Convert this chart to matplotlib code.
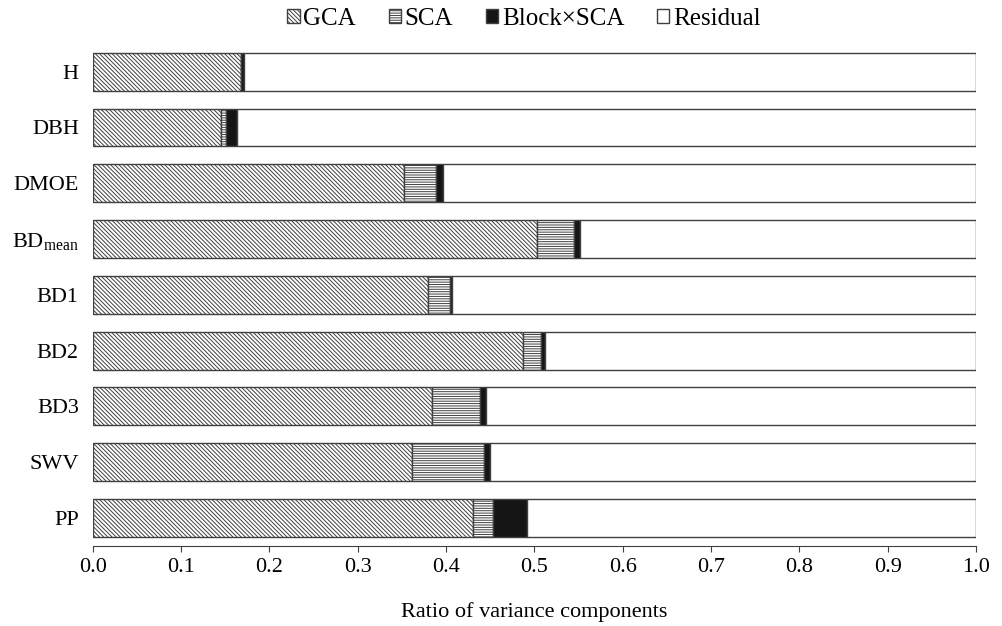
import matplotlib.pyplot as plt
import numpy as np

plt.rcParams['font.family'] = ['Liberation Serif', 'DejaVu Serif']
plt.rcParams['mathtext.fontset'] = 'custom'
plt.rcParams['mathtext.rm'] = 'Liberation Serif'
plt.rcParams['mathtext.it'] = 'Liberation Serif:italic'
plt.rcParams['hatch.linewidth'] = 0.7

traits = ['H', 'DBH', 'DMOE', r'BD$_{\mathrm{mean}}$', 'BD1', 'BD2', 'BD3', 'SWV', 'PP']
gca = [0.168, 0.145, 0.353, 0.503, 0.380, 0.487, 0.384, 0.361, 0.431]
sca = [0.000, 0.006, 0.036, 0.042, 0.024, 0.021, 0.055, 0.082, 0.022]
block_sca = [0.003, 0.012, 0.008, 0.007, 0.003, 0.004, 0.006, 0.007, 0.039]
residual = [1 - a - b - c for a, b, c in zip(gca, sca, block_sca)]

fig = plt.figure(figsize=(10.02, 6.26), dpi=100)
ax = fig.add_axes([0.0925, 0.128, 0.8815, 0.802])

y = np.arange(len(traits))
h = 0.68
edge = '#404040'
left = np.zeros(len(traits))
parts = [
    (gca, 'white', '\\' * 8, 'GCA'),
    (sca, 'white', '-' * 7, 'SCA'),
    (block_sca, '#151515', None, 'Block×SCA'),
    (residual, 'white', None, 'Residual'),
]
for vals, fc, hatch, name in parts:
    ax.barh(y, vals, height=h, left=left, color=fc, edgecolor=edge,
            linewidth=1.0, hatch=hatch, label=name)
    left = left + np.array(vals)

ax.set_ylim(8.5, -0.5)
ax.set_xlim(0, 1.0)
ax.set_xticks(np.arange(0, 1.01, 0.1))
ax.set_xticklabels([f'{v:.1f}' for v in np.arange(0, 1.01, 0.1)])
ax.set_yticks(y)
ax.set_yticklabels(traits)
ax.tick_params(axis='y', length=0, pad=10, labelsize=16)
ax.tick_params(axis='x', direction='out', length=4, color=edge, labelsize=16, pad=5)
for s in ['top', 'right', 'left']:
    ax.spines[s].set_visible(False)
ax.spines['bottom'].set_color(edge)
ax.set_xlabel('Ratio of variance components', fontsize=16, labelpad=18)

fig.legend(loc='upper center', bbox_to_anchor=(0.523, 1.023), ncol=4, frameon=False,
           fontsize=18, handlelength=0.5, handleheight=0.5, handletextpad=0.15,
           columnspacing=1.3)

fig.savefig('out.png', dpi=100)
